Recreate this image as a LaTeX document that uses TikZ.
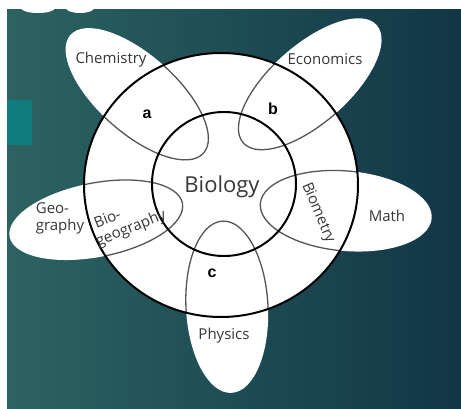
\documentclass[tikz,border=0pt]{standalone}
\usepackage{fontspec}
\setmainfont{Open Sans}
\newfontfamily\labelfont{Liberation Sans}

\definecolor{bgleft}{RGB}{44,99,97}
\definecolor{bgright}{RGB}{17,54,70}
\definecolor{tealbox}{RGB}{15,125,126}
\definecolor{petalline}{RGB}{85,85,85}
\definecolor{textgray}{RGB}{55,55,55}

\begin{document}
\begin{tikzpicture}[
    x=1pt,
    y=1pt
]
\tikzstyle{petal}=[draw=petalline, line width=1.3pt]
\tikzstyle{ring}=[draw=black, line width=2pt]
\tikzstyle{subject}=[text=textgray, font=\fontsize{15}{17}\selectfont, align=left, inner sep=0pt]
\tikzstyle{region}=[font=\labelfont\bfseries\fontsize{16}{18}\selectfont, inner sep=0pt]

% Background
\useasboundingbox (0,0) rectangle (461,408);
\fill[white] (0,0) rectangle (461,408);
\shade[left color=bgleft, right color=bgright] (7,0) rectangle (461,398);
\fill[tealbox] (7,263) rectangle (32,308);
\fill[white] (38,400) ellipse (17 and 5);
\fill[white] (80,400) ellipse (14 and 5);

% Petals
\foreach \x/\y/\a/\r/\h in {137/314/-41.6/89/39, 310/324/41.4/89/39, 96/188/11/88/37, 346/197/-5/86/40, 227/101/93/86/41}
    \fill[white, rotate around={\a:(\x,\y)}] (\x,\y) ellipse [x radius=\r, y radius=\h];

% Outer ring
\fill[white] (221,223) ellipse [x radius=137, y radius=132];

\begin{scope}
\clip (221,223) ellipse [x radius=137, y radius=132];
\foreach \x/\y/\a/\r/\h in {137/314/-41.6/89/39, 310/324/41.4/89/39, 96/188/11/88/37, 346/197/-5/86/40, 227/101/93/86/41}
    \draw[petal, rotate around={\a:(\x,\y)}] (\x,\y) ellipse [x radius=\r, y radius=\h];
\end{scope}

\draw[ring] (221,223) ellipse [x radius=137, y radius=132];
\draw[ring] (224,224) circle [radius=72];

% Labels
\node[subject] (chem) at (111,348) {Chemistry};
\node[subject] (econ) at (325,349) {Economics};
\node[subject] (geo) at (60,190) {Geo-\\graphy};
\node[subject, rotate=22] (biogeo) at (128,187) {\hspace*{5pt}Bio-\\geography};
\node[text=textgray, font=\fontsize{22}{24}\selectfont] (bio) at (222,221) {Biology};
\node[subject, rotate=-67] (biom) at (318,195) {Biometry};
\node[subject] (math) at (387,192) {Math};
\node[subject] (phys) at (224,72) {Physics};

\node[region] (a) at (147,294) {a};
\node[region] (b) at (273,299) {b};
\node[region] (c) at (212,135) {c};

\end{tikzpicture}
\end{document}
